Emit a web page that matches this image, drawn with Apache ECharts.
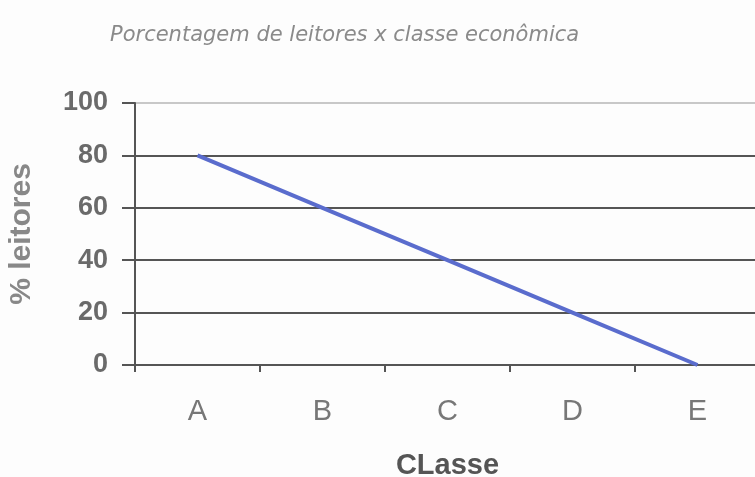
<!DOCTYPE html>
<html>
<head>
<meta charset="utf-8">
<script src="https://cdn.jsdelivr.net/npm/echarts@6/dist/echarts.min.js"></script>
<style>
html, body { margin: 0; padding: 0; background: #fdfdfd; }
#main { width: 755px; height: 477px; }
</style>
</head>
<body>
<div id="main"></div>
<script>
// dados
const classes = ['A', 'B', 'C', 'D', 'E'];
const leitores = [80, 60, 40, 20, 0];
const titulo = 'Porcentagem de leitores x classe econômica';

let chart = echarts.init(document.getElementById('main'));

chart.setOption({
    backgroundColor: '#fdfdfd',
    title: {
        text: titulo,
        left: 105,
        top: 20,
        textStyle: {
            fontFamily: 'DejaVu Sans',
            fontStyle: 'italic',
            fontWeight: 'normal',
            fontSize: 21,
            color: '#8a8a8a'
        }
    },
    grid: {
        left: 135,
        right: -5,
        top: 103,
        bottom: 112,
        outerBoundsMode: 'none'
    },
    xAxis: {
        type: 'category',
        data: classes,
        boundaryGap: true,
        name: 'CLasse',
        nameLocation: 'middle',
        nameGap: 86,
        nameTextStyle: {
            fontFamily: 'Liberation Sans',
            fontWeight: 'bold',
            fontSize: 29,
            color: '#555'
        },
        axisLine: { lineStyle: { color: '#555', width: 2 } },
        axisTick: { show: true, length: 7, lineStyle: { color: '#555', width: 2 } },
        axisLabel: {
            margin: 32,
            fontFamily: 'Liberation Sans',
            fontSize: 29,
            color: '#777'
        }
    },
    yAxis: {
        type: 'value',
        min: 0,
        max: 100,
        interval: 20,
        name: '% leitores',
        nameLocation: 'middle',
        nameGap: 98,
        nameTextStyle: {
            fontFamily: 'Liberation Sans',
            fontWeight: 'bold',
            fontSize: 30,
            color: '#888'
        },
        axisLine: { show: true, lineStyle: { color: '#555', width: 2 } },
        axisTick: { show: true, length: 13, lineStyle: { color: '#555', width: 2 } },
        axisLabel: {
            margin: 27,
            fontFamily: 'Liberation Sans',
            fontWeight: 'bold',
            fontSize: 27,
            color: '#6a6a6a'
        },
        splitLine: {
            show: true,
            lineStyle: { color: ['#555', '#555', '#555', '#555', '#555', '#c8c8c8'], width: 2 }
        }
    },
    series: [{
        type: 'line',
        data: leitores,
        showSymbol: false,
        lineStyle: { color: '#5a6ccd', width: 4 },
        itemStyle: { color: '#5a6ccd' }
    }]
});
</script>
</body>
</html>
